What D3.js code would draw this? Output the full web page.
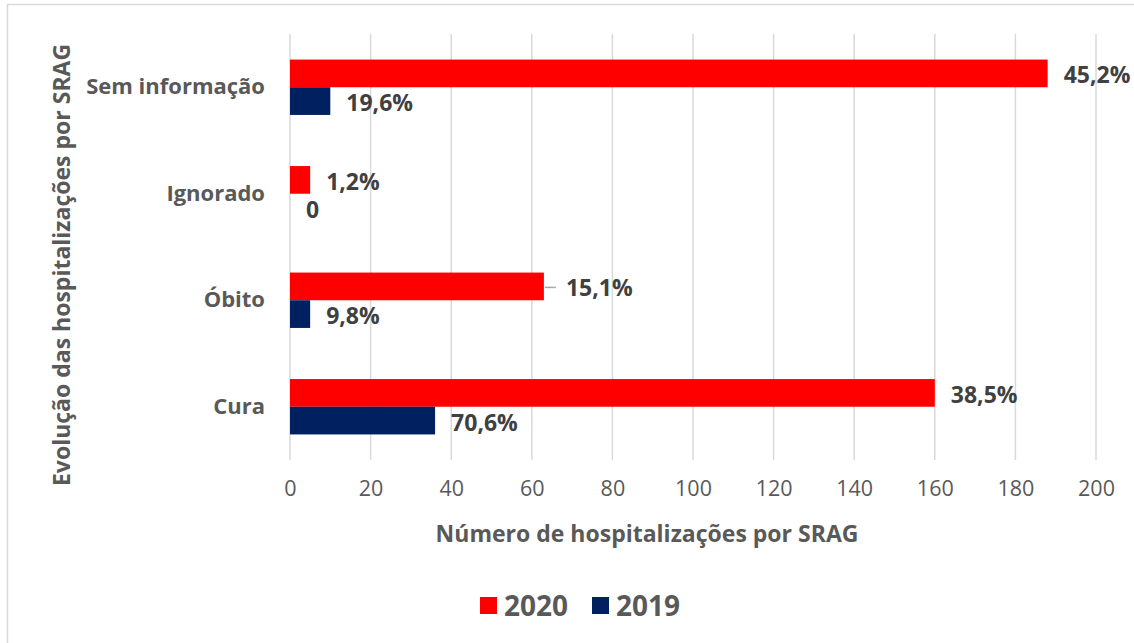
<!DOCTYPE html>
<html>
<head>
<meta charset="utf-8">
<script src="https://cdn.jsdelivr.net/npm/d3@7.9.0/dist/d3.min.js"></script>
<style>
  body { margin: 0; background: #fff; }
  svg { font-family: "Open Sans", sans-serif; }
</style>
</head>
<body>
<svg id="chart" width="1134" height="643"></svg>
<script>
// ====== DATA ======
const categories = ["Sem informação", "Ignorado", "Óbito", "Cura"];
const series = ["2020", "2019"];
const values2020 = [188, 5, 63, 160];
const values2019 = [10, 0, 5, 36];
const labels2020 = ["45,2%", "1,2%", "15,1%", "38,5%"];
const labels2019 = ["19,6%", "0", "9,8%", "70,6%"];
const xTicks = [0, 20, 40, 60, 80, 100, 120, 140, 160, 180, 200];
const colors = { "2020": "#ff0000", "2019": "#002060" };
const font = "'Open Sans', sans-serif";

const svg = d3.select("#chart");

// outer frame (top + left edges)
svg.append("line").attr("x1", 7).attr("x2", 1134).attr("y1", 4.5).attr("y2", 4.5)
  .attr("stroke", "#d9d9d9").attr("stroke-width", 1.5);
svg.append("line").attr("x1", 7.5).attr("x2", 7.5).attr("y1", 4).attr("y2", 643)
  .attr("stroke", "#d9d9d9").attr("stroke-width", 1.5);

// ====== SCALES ======
const x = d3.scaleLinear().domain([0, 200]).range([290, 1096]);
const y = d3.scaleBand().domain(categories).range([34, 460]).paddingInner(0.48).paddingOuter(0.24);
const ySub = d3.scaleBand().domain(series).range([0, y.bandwidth()]);

// gridlines
svg.append("g").selectAll("line").data(xTicks).join("line")
  .attr("x1", d => x(d)).attr("x2", d => x(d))
  .attr("y1", 34).attr("y2", 460)
  .attr("stroke", "#d9d9d9").attr("stroke-width", 1.5);

// x axis tick labels
const xAxis = svg.append("g").attr("transform", "translate(0,460)")
  .call(d3.axisBottom(x).tickValues(xTicks).tickSize(0).tickPadding(21));
xAxis.select(".domain").remove();
xAxis.selectAll("text").attr("font-size", 21.5).attr("fill", "#595959").attr("font-family", font);

// y axis category labels
const yAxis = svg.append("g").attr("transform", "translate(290,0)")
  .call(d3.axisLeft(y).tickSize(0).tickPadding(25));
yAxis.select(".domain").remove();
yAxis.selectAll("text").attr("font-size", 22).attr("font-weight", "bold").attr("fill", "#595959")
  .attr("font-family", font);

// ====== BARS ======
const rows = categories.map((c, i) => ({
  cat: c,
  bars: [
    { s: "2020", v: values2020[i], label: labels2020[i] },
    { s: "2019", v: values2019[i], label: labels2019[i] }
  ]
}));

const groups = svg.append("g").selectAll("g").data(rows).join("g")
  .attr("transform", d => `translate(0,${y(d.cat)})`);

groups.selectAll("rect").data(d => d.bars.filter(b => b.v > 0)).join("rect")
  .attr("x", x(0))
  .attr("y", d => ySub(d.s))
  .attr("width", d => x(d.v) - x(0))
  .attr("height", ySub.bandwidth())
  .attr("fill", d => colors[d.s]);

// data labels (15,1% uses a leader line in the original)
groups.selectAll("text").data(d => d.bars).join("text")
  .attr("x", d => x(d.v) + (d.label === "15,1%" ? 22 : 16))
  .attr("y", d => ySub(d.s) + ySub.bandwidth() / 2 + 2)
  .attr("dy", "0.35em")
  .attr("font-size", 23).attr("font-weight", "bold").attr("fill", "#404040")
  .text(d => d.label);

const obito = values2020[categories.indexOf("Óbito")];
svg.append("line")
  .attr("x1", x(obito) + 1).attr("x2", x(obito) + 12)
  .attr("y1", y("Óbito") + ySub("2020") + ySub.bandwidth() / 2 + 1)
  .attr("y2", y("Óbito") + ySub("2020") + ySub.bandwidth() / 2 + 1)
  .attr("stroke", "#a6a6a6").attr("stroke-width", 1.5);

// ====== AXIS TITLES ======
svg.append("text").attr("x", 647).attr("y", 542)
  .attr("text-anchor", "middle").attr("font-size", 23).attr("font-weight", "bold").attr("fill", "#595959")
  .text("Número de hospitalizações por SRAG");

svg.append("text").attr("transform", "translate(70,265) rotate(-90)")
  .attr("text-anchor", "middle").attr("font-size", 23).attr("font-weight", "bold").attr("fill", "#595959")
  .text("Evolução das hospitalizações por SRAG");

// ====== LEGEND ======
const legend = svg.append("g").attr("transform", "translate(480,606)");
const legItems = legend.selectAll("g").data(series).join("g")
  .attr("transform", (d, i) => `translate(${i * 112},0)`);
legItems.append("rect").attr("x", 0).attr("y", -9).attr("width", 17).attr("height", 17)
  .attr("fill", d => colors[d]);
legItems.append("text").attr("x", 24).attr("y", 0).attr("dy", "0.35em")
  .attr("font-size", 28).attr("font-weight", "bold").attr("fill", "#595959")
  .text(d => d);
</script>
</body>
</html>
